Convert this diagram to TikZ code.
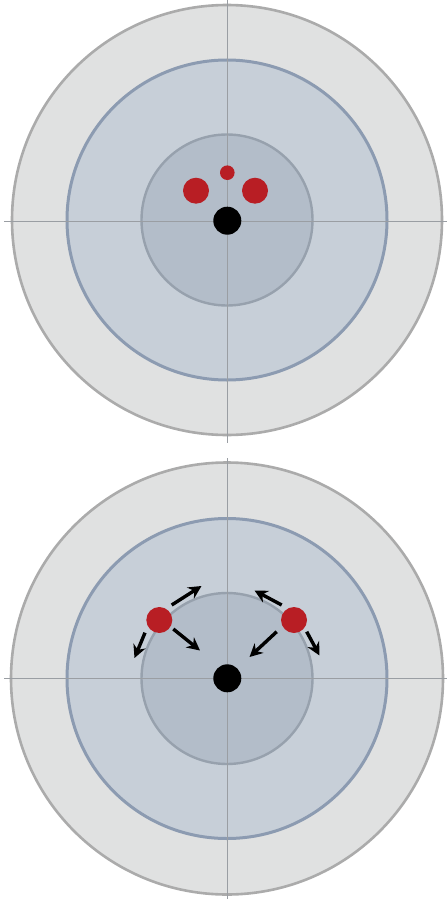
\documentclass[tikz,border=0pt]{standalone}
\usepackage{tikz}
\usetikzlibrary{arrows.meta}
\definecolor{outfill}{HTML}{E0E1E1}
\definecolor{outline}{HTML}{ABABAB}
\definecolor{midfill}{HTML}{C7CFD8}
\definecolor{midline}{HTML}{8C9BB1}
\definecolor{infill}{HTML}{B3BDC9}
\definecolor{inline}{HTML}{97A1AD}
\definecolor{axisgray}{HTML}{9A9EA3}
\definecolor{dotred}{HTML}{B81E24}
\begin{document}
\begin{tikzpicture}[x=0.5pt,y=-0.5pt,
  outring/.style={fill=outfill, draw=outline, line width=1.3pt},
  midring/.style={fill=midfill, draw=midline, line width=1.5pt},
  inring/.style={fill=infill, draw=inline, line width=1.2pt},
  axis/.style={draw=axisgray, line width=0.5pt},
  reddot/.style={circle, fill=dotred, inner sep=0pt, minimum size=13pt},
  blackdot/.style={circle, fill=black, inner sep=0pt, minimum size=14pt},
  arr/.style={line width=1.7pt, -{Stealth[length=6.5pt, width=6.5pt]}}]
\useasboundingbox (0,0) rectangle (448,899);
% top
\draw[outring] (227,220) circle (215);
\draw[midring] (227,220) circle (160);
\draw[inring] (227,220) circle (85.5);
\draw[axis] (4,221) -- (447,221);
\draw[axis] (227,0) -- (227,443);
\node[reddot, minimum size=7.3pt] (rs1) at (227.3,172.7) {};
\node[reddot] (rl1) at (196,190.7) {};
\node[reddot] (rr1) at (255,190.7) {};
\node[blackdot] (b1) at (227.3,220.7) {};
% bottom
\draw[outring] (227,678.5) circle (216);
\draw[midring] (227,678.5) circle (160);
\draw[inring] (227,678.5) circle (85.5);
\draw[axis] (4,678) -- (447,678);
\draw[axis] (227,458) -- (227,899);
\node[reddot] (rl2) at (159.3,620) {};
\node[reddot] (rr2) at (294,620) {};
\node[blackdot] (b2) at (227.3,678.3) {};
\coordinate (la1) at (171.7,605);
\coordinate (lb1) at (201.5,586);
\coordinate (la2) at (173.3,629);
\coordinate (lb2) at (200,650.5);
\coordinate (la3) at (145,632.7);
\coordinate (lb3) at (134.5,658);
\coordinate (ra1) at (281.7,605);
\coordinate (rb1) at (254.5,590.5);
\coordinate (ra2) at (276.7,631.7);
\coordinate (rb2) at (249.5,657);
\coordinate (ra3) at (306.7,631.7);
\coordinate (rb3) at (319.5,655.5);
\draw[arr] (la1) -- (lb1);
\draw[arr] (la2) -- (lb2);
\draw[arr] (la3) -- (lb3);
\draw[arr] (ra1) -- (rb1);
\draw[arr] (ra2) -- (rb2);
\draw[arr] (ra3) -- (rb3);
\end{tikzpicture}
\end{document}
